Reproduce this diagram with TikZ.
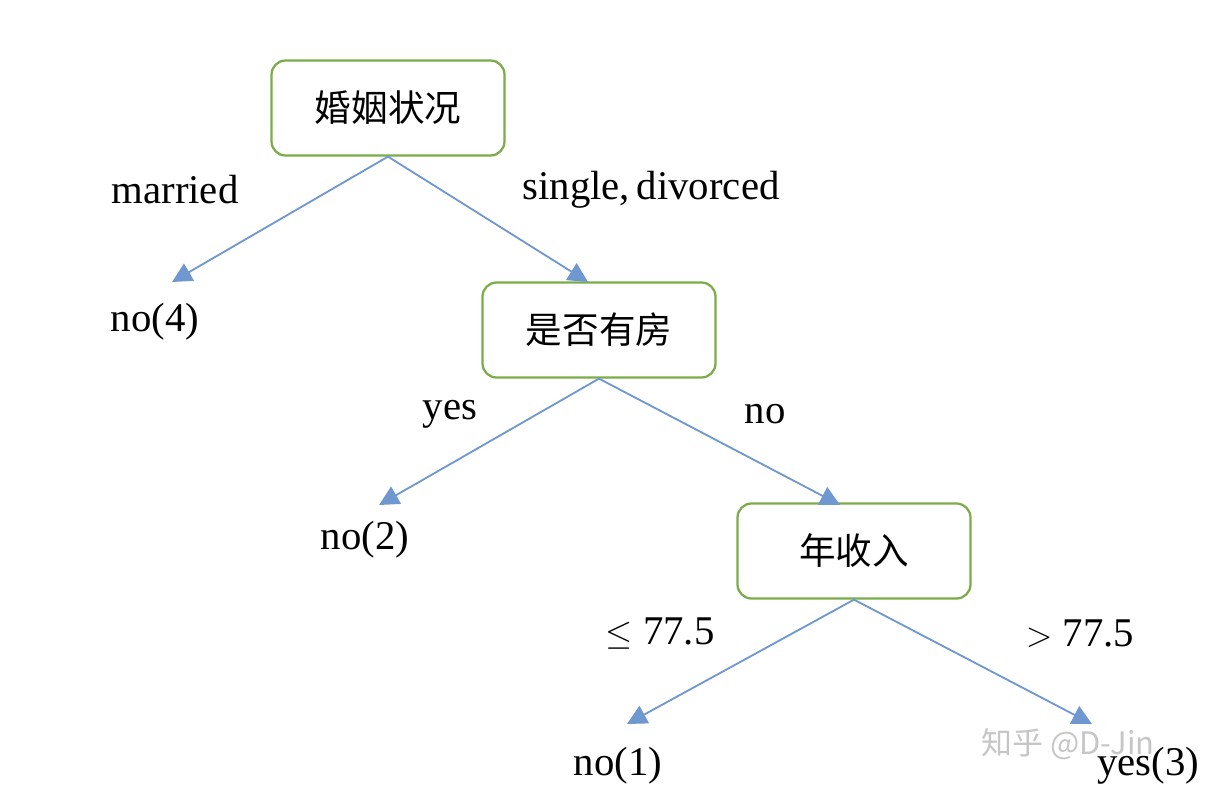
\documentclass[tikz,border=0pt]{standalone}
\usepackage{fontspec}
\usetikzlibrary{arrows.meta}
\setmainfont{Liberation Serif}
\newfontfamily\cjk{Noto Sans CJK SC}
\definecolor{lineblue}{RGB}{112,152,208}
\definecolor{boxgreen}{RGB}{122,172,72}
\begin{document}
\begin{tikzpicture}[x=0.025cm,y=-0.025cm,
  box/.style={draw=boxgreen,line width=1.6pt,rounded corners=10pt,minimum width=233*0.025cm,minimum height=95*0.025cm,font=\cjk\fontsize{26}{30}\selectfont},
  lbl/.style={font=\fontsize{29}{32}\selectfont},
  edge/.style={draw=lineblue,line width=1.3pt,-{Triangle[length=14pt,width=14pt]}},
  every node/.style={inner sep=0pt}]
\useasboundingbox (0,0) rectangle (1208,796);
\node[box] (b1) at (388,108) {婚姻状况};
\node[box] (b2) at (599,330) {是否有房};
\node[box] (b3) at (854,551) {年收入};
\coordinate (l1) at (172,282);
\coordinate (r1) at (588,282);
\coordinate (l2) at (379,505);
\coordinate (r2) at (840,505);
\coordinate (l3) at (627,724);
\coordinate (r3) at (1092,724);
\draw[edge] (b1.south) -- (l1);
\draw[edge] (b1.south) -- (r1);
\draw[edge] (b2.south) -- (l2);
\draw[edge] (b2.south) -- (r2);
\draw[edge] (b3.south) -- (l3);
\draw[edge] (b3.south) -- (r3);
\node[lbl] (t1) at (175,190) {married};
\node[lbl] (t2) at (651,190) {single,\,divorced};
\node[lbl] (t3) at (155,322) {no(4)};
\node[lbl] (t4) at (450,414) {yes};
\node[lbl] (t5) at (765,414) {no};
\node[lbl] (t6) at (365,540) {no(2)};
\node[lbl] (t7) at (660,634) {$\leq$ 77.5};
\node[lbl] (t8) at (1080,634) {$>$ 77.5};
\node[lbl] (t9) at (618,766) {no(1)};
\node[lbl] (t10) at (1148,766) {yes(3)};
\node[font=\cjk\fontsize{22}{24}\selectfont,text=gray!45] (wm) at (1068,744) {知乎 @D-Jin};
\end{tikzpicture}
\end{document}
